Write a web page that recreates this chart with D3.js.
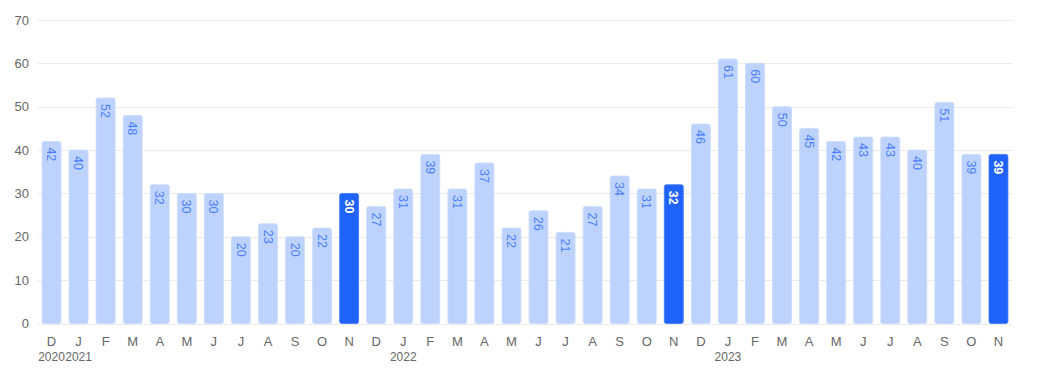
<!DOCTYPE html>
<html>
<head>
<meta charset="utf-8">
<script src="https://cdn.jsdelivr.net/npm/d3@7"></script>
<style>
  body { margin: 0; background: #fff; }
  svg text { font-family: "Liberation Sans", Arial, sans-serif; }
</style>
</head>
<body>
<div id="chart"></div>
<script>
// month letters, one per bar
var months = ["D","J","F","M","A","M","J","J","A","S","O","N",
              "D","J","F","M","A","M","J","J","A","S","O","N",
              "D","J","F","M","A","M","J","J","A","S","O","N"];
// year labels shown under given bar index
var yearLabels = [
  {idx: 0, year: "2020"},
  {idx: 1, year: "2021"},
  {idx: 13, year: "2022"},
  {idx: 25, year: "2023"}
];
var values = [42,40,52,48,32,30,30,20,23,20,22,30,
              27,31,39,31,37,22,26,21,27,34,31,32,
              46,61,60,50,45,42,43,43,40,51,39,39];
// bars that are highlighted (November of each year)
var highlight = [11, 23, 35];
var yTicks = [0,10,20,30,40,50,60,70];

var svgWidth = 1046, svgHeight = 379;

var svg = d3.select("#chart")
  .append("svg")
  .attr("width", svgWidth)
  .attr("height", svgHeight);

var data = values.map(function(v, i) {
  return {i: i, value: v, month: months[i], hi: highlight.indexOf(i) >= 0};
});

var xScale = d3.scaleBand()
  .domain(data.map(d => d.i))
  .range([38, 1012])
  .paddingInner(0.3)
  .paddingOuter(0.15);

var yScale = d3.scaleLinear()
  .domain([0, 70])
  .range([323.5, 20]);

// gridlines
svg.append("g")
  .selectAll("line")
  .data(yTicks)
  .enter()
  .append("line")
  .attr("x1", 38)
  .attr("x2", 1012)
  .attr("y1", d => Math.round(yScale(d)) + 0.5)
  .attr("y2", d => Math.round(yScale(d)) + 0.5)
  .attr("stroke", "#ebebeb")
  .attr("stroke-width", 1);

// y labels
var yAxis = d3.axisLeft(yScale).tickValues(yTicks).tickSize(0).tickPadding(0);
var yG = svg.append("g")
  .attr("transform", "translate(29,0)")
  .call(yAxis);
yG.select(".domain").remove();
yG.selectAll("text")
  .attr("fill", "#666")
  .style("font-size", "13px");

// bars
svg.append("g")
  .selectAll("rect")
  .data(data)
  .enter()
  .append("rect")
  .attr("x", d => xScale(d.i))
  .attr("y", d => yScale(d.value))
  .attr("width", xScale.bandwidth())
  .attr("height", d => yScale(0) - yScale(d.value))
  .attr("rx", 2)
  .attr("fill", d => d.hi ? "#1f63fc" : "#bdd3fd")
  .attr("stroke", d => d.hi ? "#3a76fd" : "#c9dbfd")
  .attr("stroke-width", 0.8);

// value labels, rotated
svg.append("g")
  .selectAll("text")
  .data(data)
  .enter()
  .append("text")
  .attr("transform", d => "translate(" + (xScale(d.i) + xScale.bandwidth() / 2) + "," + (yScale(d.value) + 6) + ") rotate(90)")
  .attr("dy", "0.35em")
  .attr("text-anchor", "start")
  .attr("fill", d => d.hi ? "#ffffff" : "#4a7dfd")
  .style("font-size", "12.5px")
  .style("font-weight", d => d.hi ? "bold" : "normal")
  .text(d => d.value);

// month labels
var xAxis = d3.axisBottom(xScale).tickSize(0).tickPadding(0).tickFormat(i => months[i]);
var xG = svg.append("g")
  .attr("transform", "translate(0,337)")
  .call(xAxis);
xG.select(".domain").remove();
xG.selectAll("text")
  .attr("fill", "#666")
  .style("font-size", "13px");

// year labels
svg.append("g")
  .selectAll("text")
  .data(yearLabels)
  .enter()
  .append("text")
  .attr("x", d => xScale(d.idx) + xScale.bandwidth() / 2)
  .attr("y", 361)
  .attr("text-anchor", "middle")
  .attr("fill", "#666")
  .style("font-size", "12px")
  .text(d => d.year);
</script>
</body>
</html>
